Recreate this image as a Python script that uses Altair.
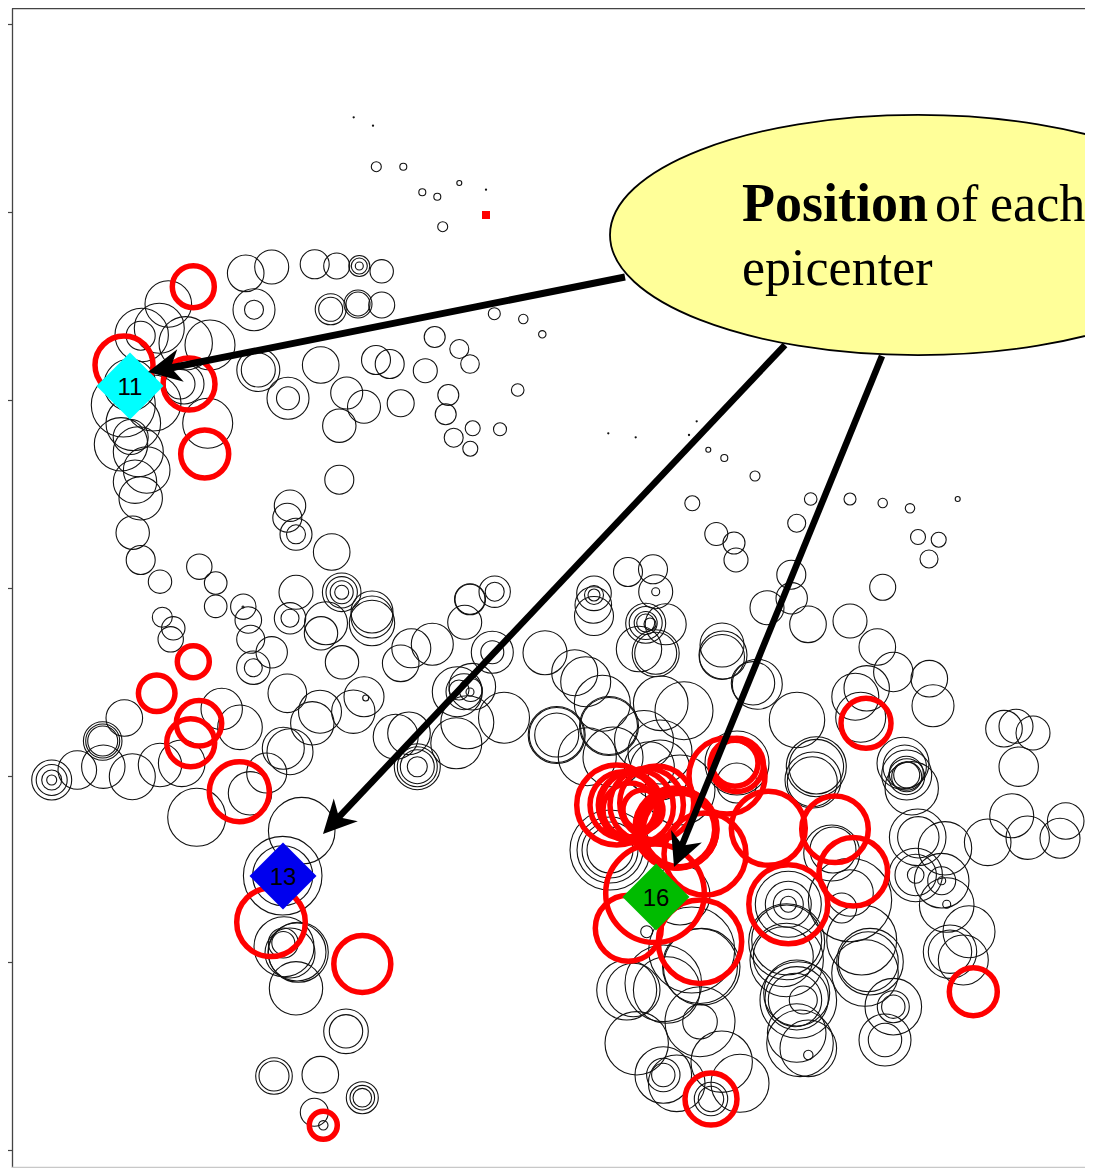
import altair as alt
import pandas as pd

# rings: (x, y, radius) in picture units
black_rings = [
 (353.7,117.3,.6),(373,125.7,.6),(486,189.7,.6),(608.3,433.3,.6),(635.7,437.3,.6),(696.7,421.3,.6),(689,435,.6),
 (376.3,166.7,5),(403.3,166.7,3.5),(422.3,192.3,3.5),(437.3,196.7,3.5),(459.3,183,2.5),(442.7,226.7,5),
 (494.3,313.7,6),(523.3,319,4.7),(542.3,334.3,3.7),(434.7,337,10.5),(459.3,349,9.5),(470,364,9.3),
 (376,360,14.5),(389.7,364,14.5),(425.3,370.7,12),(517.7,390,6.3),(448.3,395,10.5),(445.7,414.3,10.5),
 (364,406.7,16.5),(400.7,403.3,13.5),(472.7,428.3,7.5),(500,429.3,6.5),(453.7,437.7,9.5),(470.3,448.7,7.5),
 (708.3,449.7,2.5),(724.3,458,3.5),(755,476,5),(692.3,503.3,7.5),(810.7,499,6.3),(850,499,6),(882.7,503,4.7),
 (910,508.3,4.7),(957.7,499,2.5),(796.7,523.3,9),(716.3,534,11.5),(734,543,11),(736,560,12),(918,537,7.5),
 (938.7,539.7,7.5),(929,559,9),(882.7,587.3,13),(791.3,574.7,14.5),(791.7,598.3,15.7),(767,607.7,17),
 (808,624.3,18.3),(850,621,17),(877.3,647,18.3),(893.3,672,19.7),(929.3,678.7,18.3),(933,705.7,21),
 (866.7,688.3,22.7),(855.3,696.7,23.5),(860.7,717.3,25),(797,720,27.7),(1004,728.7,18.3),(1016,726.3,17),
 (1033,733,17),(1018.7,766.7,19.7),(753,683.3,21.7),(757.3,684.3,25),(722,645,22),(722,657,22.5),(723,655,24),
 (245.7,273.3,18.3),(271.7,267,17),(314.7,264.3,14.5),(336.7,266,13),(359.3,266,10.5),(359.3,266,8),(359.3,266,4),
 (381.7,271.3,11.7),(254,309.7,21),(254,309.7,9.5),(330.7,309.3,15.5),(330.7,309.3,12),(358,304,14),(358,304,12),
 (381.7,305,13),(372,612,21),(372,623,22.7),(372,617,21),(470,599.3,15.5),(470,599.3,15),(494.7,591.7,15.7),
 (494.7,591.7,9.5),(464.7,622.3,17),(432.3,644.3,21),(411.3,648.3,19.5),(400.7,663.3,18.3),(492.3,652.3,21),
 (492.3,652.3,11.5),(545,652.7,22),(574.7,672.7,23),(585.7,681.7,25),(602.3,703.3,28),(660.7,703.3,27.3),
 (684,710.7,29),(644,740,29.5),(649.3,766.7,25),(609,726,29.5),(609,726,28.5),(556.7,735,28.5),(556.7,735,27.5),
 (556.7,735,22),(587.3,756.7,29),(504,717.7,25.5),(467.3,722.3,26.5),(456.3,743.3,25.5),(395.7,736.7,22.5),
 (409,733.3,21.3),(417.3,766.7,23),(417.3,766.7,17),(417.3,766.7,10),(417.3,766.7,20),(457.3,691.7,25),
 (472.3,686.7,23.3),(464,691.7,18),(470.7,690,11.5),(459,690,10),(470,692,4),(364,696.7,20),(365.7,698,3),
 (594,593.3,17.3),(594,595,9.5),(594,595,6),(593.3,605,18.3),(594,616,19.5),(628,572,14.5),(653,569.3,14.5),
 (655.7,591.7,17),(655.7,591.7,4),(665.7,624.3,20.5),(645.7,623.3,20),(645.7,623,16.5),(645.7,623,11.5),
 (645.7,623,9),(650,624,6),(639,649,22.7),(655.7,653.3,23.5),(655.7,653.3,21),
 (168.3,304,23.3),(159.3,328.3,25),(141.7,335,26.7),(140.7,335.7,14.5),(185.7,343.3,26.7),(210,345,25),
 (258.3,370,21.5),(258.3,370,17),(320.7,365,18.3),(288,398.3,21),(288,398.3,11.5),(346.7,393,16),(339.3,425.7,16.7),
 (339.3,479.7,14.5),(290,505.7,15.7),(287.3,517.7,14.5),(296,534.3,16),(296,534.3,9.5),(331.7,552,18.3),
 (207.7,423.3,25),(123.3,405,32),(130,385,26),(133.3,423.3,27.3),(121,444.3,26.7),(130.7,437,17.5),(138.3,451.7,25),
 (146.7,470,23.3),(135,481.7,21.7),(140.7,498.3,21.7),(132.7,532.7,16.7),(140.7,560,14.5),(160,581.7,11.7),
 (184,384,20),(180,384,15),(153,403,28),(199.3,566.7,12.7),(215.7,583,11.3),(215.7,606.3,11.3),(243.3,606.7,12.7),
 (243,607,1),(248.3,620,13.3),(250.7,639.3,14),(271.7,652.3,15.7),(253.3,667.7,16.7),(253.3,667.7,9),
 (296,592.3,17),(290,618.3,15.7),(290,618.3,9),(341.7,592.3,19.3),(341.7,592.3,15.7),(341.7,592.3,11.5),(341.7,592.3,7),
 (326,623.3,21.5),(321,633.3,16.7),(342,662.3,16.7),(287.3,693.3,19.3),(320,711.7,21.5),(312.3,723.3,21.7),
 (353.3,711.7,21.7),(162.3,617.3,10),(173.3,628.3,11.7),(170.7,639.3,12.7),(221.7,709,20.7),(240,727.3,22.3),
 (124.3,718,18.3),(102.7,741,19.3),(102.7,741,17),(102.7,741,15),(51.7,780,20),(51.7,780,15.5),(51.7,780,10),(51.7,780,5),
 (77.3,770,19.3),(103.3,766.7,21.7),(132.3,776.7,23),(160,765,21.7),(181.7,763.3,23.3),(283.3,748.3,21),(290,751.7,23),
 (266.7,773,20),(196.7,817.3,29),(250,793.3,21.7),(301.7,830.7,33.3),(282.7,875.7,39.3),(282.7,875.7,30),(284,946.7,30),
 (298.3,952.3,30),(297,952,29),(283.3,943,15),(283.3,943,11.5),(290,953,25),(296,988.3,26.7),(346,1031.3,22.3),
 (346,1031.3,16.7),(274,1076,18.3),(274,1076,15),(320.3,1074.7,18.3),(362.3,1097.7,16),(362.3,1097.7,12.3),
 (362.3,1097.7,9.3),(314.3,1112.3,14),(323.3,1125.3,4.7),
 (610,850,40),(610,850,33),(610,850,28),(610,850,23),(613,757,30),(660,770,30),(660,752,32),(680,790,35),
 (736.7,783,20),(737,763,32),(816.3,766.7,30),(816.3,766.7,27.3),(813,780,28),(812.3,781.7,25),(903,763.3,26),
 (904.7,766.7,21.7),(906.3,773.3,17),(906.7,775,25),(906.7,776.7,18),(906.7,776.7,15),(906.7,775,13),(911.7,788.3,26.7),
 (917.7,837.3,28.3),(918.3,837.3,20.7),(945,848.3,26.7),(915.7,875,26.7),(915.7,875,20.7),(915.7,875,8.3),
 (941.7,880.7,27.3),(941.7,880.7,14),(941.7,880.7,4),(946.7,905,27.3),(946.7,904.3,4),(969,931.7,26),(950,951.7,26.7),
 (950,951.7,21.7),(963.3,960,25),(987.7,842.3,23.3),(1011.7,815.7,22),(1027.7,837.7,21.7),(1060,838.3,20),
 (1065.7,821,18.3),(868.3,961.7,30),(870,961.7,33.3),(865,973,33.3),(861.7,940,35),(893.3,1006.7,28.3),
 (893.3,1006.7,16),(893.3,1006.7,11.7),(885,1040,26),(885,1040,16.7),(850,900,41.7),(841.7,908,15),(850,893,23.3),
 (833,850,23),(831.7,853,28),(788.3,904.3,33),(788.3,904.3,23),(788.3,904.3,15),(788.3,904.3,8),
 (701.7,966.7,38.3),(700,966,37.5),(626.7,990,30),(633.3,990,26.7),(663.3,983.3,38.3),(666.7,990,33.3),
 (636.7,1043.3,31.7),(700,1021.7,35),(700,1021.7,17.3),(663.3,1075,28.3),(663.3,1075,16.7),(663.3,1075,11.7),
 (676.7,1083.3,28.3),(721.7,1061.7,30.7),(740,1083.3,29),(711,1099,16.7),(711,1099,12.7),(800,1043.3,33.3),
 (808.3,1048.3,28.3),(808.3,1055,4.7),(796.7,1033,29.3),(798.3,1000,38.3),(796.7,998.3,31.7),(795,1000,26.7),
 (803.3,1000,14),(796.7,993,33),(786.7,960,36.7),(783.3,956.7,30),(786.7,941.7,38),(786.7,940,35),(646.7,931.7,6),
 (691.7,950,43),(680,895,30),
]
red_rings = [
 (193.3,286.7,21),(124,365,29),(189,384,26),(204.7,454,24),(193.3,661.7,16),(156.7,693.3,18.3),(199,723.3,22.7),
 (190.7,742.7,24),(239.3,791.7,30),(271,922.3,34.3),(362.3,964,28.5),(323.3,1125.3,14),(866,723.3,25),
 (727,776,38),(736.7,765,26.7),(735,763.3,23),(616.7,805,40),(623.3,805,33.3),(630,805,31.7),(630,810,27),
 (636.7,806.7,36.7),(646.7,805,36.7),(656.7,803,37),(643,810,20),(680,830,36.7),(676.7,830,38),(675,828,40),(678,829,39),
 (705,854,41),(768.3,828.3,37),(835,829.3,33.3),(853.3,871.7,34.3),(788.3,904.3,39.5),(655,893.3,49.3),
 (628.3,928.3,33),(700,941.7,41.7),(973.3,991.7,24),(711,1099,26),
]
epi_x = [130, 283, 656]
epi_y = [386, 876, 897]
epi_label = ["11", "13", "16"]
epi_color = ["#00ffff", "#0000ee", "#00bb00"]

square_x, square_y = [486], [215]

arrow_x = [625, 785, 882]
arrow_y = [277, 345, 356]
arrow_x2 = [165, 338, 680]
arrow_y2 = [369, 818, 850]
arrow_w = [7, 6.5, 6.5]
tip_x = [148, 323, 674]
tip_y = [372, 834, 867]
tip_angle = [258.7, 223.4, 202.1]

tick_values = [24, 212, 400, 588, 776, 962, 1150]

callout_x, callout_y = [918], [235]
bold_x, bold_y, bold_text = [742], [221], ["Position"]
note_x = [935, 990, 742]
note_y = [221, 221, 285]
note_text = ["of", "each", "epicenter"]

W, H = 1073, 1160
xs = alt.Scale(domain=[12, 12 + W], nice=False, zero=False)
ys = alt.Scale(domain=[8 + H, 8], nice=False, zero=False)
rs = alt.Scale(type="pow", exponent=2, domain=[0, 50], range=[0, 10000])
X = alt.X("x:Q", scale=xs, axis=None)
Y = alt.Y("y:Q", scale=ys, axis=alt.Axis(values=tick_values, labels=False, title=None, grid=False, tickSize=7,
                                         tickColor="#444", domainColor="#444", domainWidth=1.3, tickWidth=1.2))
R = alt.Size("r:Q", scale=rs, legend=None)

black = alt.Chart(pd.DataFrame(black_rings, columns=["x", "y", "r"])).mark_point(
    shape="circle", filled=False, color="#111", strokeWidth=1.1, opacity=1).encode(x=X, y=Y, size=R)
red = alt.Chart(pd.DataFrame(red_rings, columns=["x", "y", "r"])).mark_point(
    shape="circle", filled=False, color="#ff0000", strokeWidth=5.5, opacity=1).encode(x=X, y=Y, size=R)
square = alt.Chart(pd.DataFrame({"x": square_x, "y": square_y})).mark_point(
    shape="square", filled=True, color="#ff0000", opacity=1, size=64).encode(x=X, y=Y)
epi = pd.DataFrame({"x": epi_x, "y": epi_y, "label": epi_label, "c": epi_color})
diamonds = alt.Chart(epi).mark_point(shape="diamond", filled=True, opacity=1, size=4489).encode(
    x=X, y=Y, color=alt.Color("c:N", scale=None))
labels = alt.Chart(epi).mark_text(font="Liberation Sans", fontSize=24, color="#000", dy=2).encode(
    x=X, y=Y, text="label:N")
arrows = alt.Chart(pd.DataFrame({"x": arrow_x, "y": arrow_y, "x2": arrow_x2, "y2": arrow_y2, "w": arrow_w})).mark_rule(
    color="#000").encode(x=X, y=Y, x2="x2:Q", y2="y2:Q", strokeWidth=alt.StrokeWidth("w:Q", scale=None))
heads = alt.Chart(pd.DataFrame({"x": tip_x, "y": tip_y, "a": tip_angle})).mark_point(
    shape="M0,0L0.5,1L0,0.7L-0.5,1Z", filled=True, color="#000", opacity=1, size=4400).encode(
    x=X, y=Y, angle=alt.Angle("a:Q", scale=None))
callout = alt.Chart(pd.DataFrame({"x": callout_x, "y": callout_y})).mark_point(
    shape="M-1,0A1,0.39 0 1 1 1,0A1,0.39 0 1 1 -1,0Z", filled=True, fill="#ffff99", stroke="#000",
    strokeWidth=1.8, opacity=1, size=379456).encode(x=X, y=Y)
note_b = alt.Chart(pd.DataFrame({"x": bold_x, "y": bold_y, "t": bold_text})).mark_text(
    font="Liberation Serif", fontSize=54, fontWeight="bold", align="left", baseline="alphabetic", color="#000").encode(
    x=X, y=Y, text="t:N")
note_n = alt.Chart(pd.DataFrame({"x": note_x, "y": note_y, "t": note_text})).mark_text(
    font="Liberation Serif", fontSize=52, align="left", baseline="alphabetic", color="#000").encode(
    x=X, y=Y, text="t:N")
top = alt.Chart(pd.DataFrame({"y": [8.6]})).mark_rule(color="#444", strokeWidth=1.3).encode(y=Y)
bottom = alt.Chart(pd.DataFrame({"y": [1167.5]})).mark_rule(color="#c8c8c8", strokeWidth=1.3).encode(y=Y)

chart = alt.layer(black, red, square, diamonds, labels, arrows, heads, callout, note_b, note_n, top, bottom).properties(
    width=W, height=H, autosize=alt.AutoSizeParams(type="none"),
    padding={"left": 4, "top": 0, "right": 0, "bottom": 0},
).configure_view(stroke=None)

chart.save("out.html", embed_options={"renderer": "svg", "actions": False})
